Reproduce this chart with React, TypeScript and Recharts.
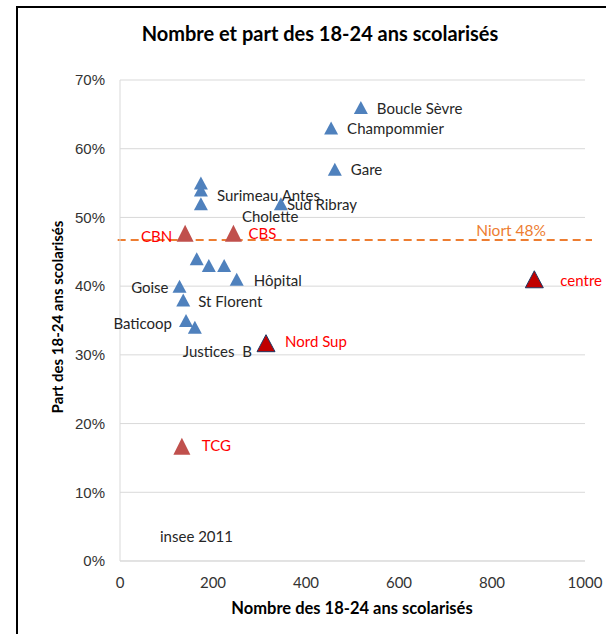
import React from 'react';
import { ScatterChart, Scatter, XAxis, YAxis, CartesianGrid, ReferenceLine } from 'recharts';

// ---- data ----
const blueNames = ['Boucle Sèvre', 'Champommier', 'Gare', '', 'Surimeau Antes', 'Cholette', 'Sud Ribray', '', '', '', 'Hôpital', 'Goise', 'St Florent', 'Baticoop', 'Justices  B'];
const blueX = [518, 454, 462, 174, 174, 174, 346, 165, 191, 224, 251, 128, 136, 142, 161];
const blueY = [0.66, 0.63, 0.57, 0.55, 0.54, 0.52, 0.52, 0.44, 0.43, 0.43, 0.41, 0.40, 0.38, 0.35, 0.34];

const redNames = ['CBN', 'CBS', 'TCG'];
const redX = [140, 244, 133];
const redY = [0.477, 0.477, 0.167];

const darkNames = ['Nord Sup', 'centre'];
const darkX = [314, 891];
const darkY = [0.317, 0.41];

const niortValue = 0.467;
const niortLabel = 'Niort 48%';
const xTicks = [0, 200, 400, 600, 800, 1000];
const yTicks = [0, 0.1, 0.2, 0.3, 0.4, 0.5, 0.6, 0.7];

const build = (names: string[], xs: number[], ys: number[]) =>
  names.map((n, i) => ({ name: n, x: xs[i], y: ys[i] }));

const blueData = build(blueNames, blueX, blueY);
const redData = build(redNames, redX, redY);
const darkData = build(darkNames, darkX, darkY);

// ---- label placement (styling, kept apart from data) ----
const labelOffsets: Record<string, { dx: number; dy: number; anchor?: string }> = {
  'Boucle Sèvre': { dx: 16, dy: 1 },
  'Champommier': { dx: 16, dy: 0 },
  'Gare': { dx: 16, dy: 0 },
  'Surimeau Antes': { dx: 16, dy: 5 },
  'Cholette': { dx: 41, dy: 12 },
  'Sud Ribray': { dx: 6, dy: 0 },
  'Hôpital': { dx: 17, dy: 1 },
  'Goise': { dx: -11, dy: 1, anchor: 'end' },
  'St Florent': { dx: 15, dy: 1 },
  'Baticoop': { dx: -14, dy: 2, anchor: 'end' },
  'Justices  B': { dx: -12, dy: 24 },
  'CBN': { dx: -13, dy: 3, anchor: 'end' },
  'CBS': { dx: 15, dy: 0 },
  'TCG': { dx: 20, dy: -1 },
  'Nord Sup': { dx: 19, dy: -2 },
  'centre': { dx: 26, dy: 1 },
};

const LABEL_FONT = 'Lato, "Open Sans", sans-serif';

const makeShape = (fill: string, w: number, h: number, labelColor: string, stroke?: string) =>
  (props: any) => {
    const { cx, cy, payload } = props;
    if (cx == null || cy == null) return <g />;
    const pts = `${cx - w / 2},${cy + h / 2} ${cx + w / 2},${cy + h / 2} ${cx},${cy - h / 2}`;
    const name: string = payload?.name ?? '';
    const off = labelOffsets[name];
    return (
      <g>
        <polygon points={pts} fill={fill} stroke={stroke ?? 'none'} strokeWidth={stroke ? 1 : 0} />
        {name && off ? (
          <text
            x={cx + off.dx}
            y={cy + off.dy}
            textAnchor={off.anchor ?? 'start'}
            dominantBaseline="central"
            fontFamily={LABEL_FONT}
            fontSize={15}
            fill={labelColor}
            style={{ whiteSpace: 'pre' }}
          >
            {name}
          </text>
        ) : null}
      </g>
    );
  };

const NiortLabel = (props: any) => {
  const vb = props.viewBox || {};
  const x2 = (vb.x ?? 0) + (vb.width ?? 0);
  return (
    <text x={x2 - 46} y={(vb.y ?? 0) - 10} textAnchor="end" dominantBaseline="central"
      fontFamily={LABEL_FONT} fontSize={15.5} fill="#ED7D31">
      {niortLabel}
    </text>
  );
};

export default function App() {
  return (
    <div style={{ position: 'absolute', left: 0, top: 0, width: 606, height: 634, background: '#fff', overflow: 'hidden' }}>
      <div style={{ position: 'absolute', left: 16, top: 6, width: 700, height: 700, borderLeft: '2px solid #000', borderTop: '2px solid #000' }} />
      <ScatterChart width={606} height={634} margin={{ top: 80, right: 21, left: 60, bottom: 43 }} style={{ position: 'absolute', left: 0, top: 0 }}>
        <CartesianGrid vertical={false} stroke="#D9D9D9" />
        <XAxis
          type="number"
          dataKey="x"
          domain={[0, 1000]}
          ticks={xTicks}
          height={30}
          axisLine={{ stroke: '#D9D9D9' }}
          tickLine={false}
          tickMargin={10}
          tick={{ fontFamily: LABEL_FONT, fontSize: 15, fill: '#333' }}
          interval={0}
        />
        <YAxis
          type="number"
          dataKey="y"
          domain={[0, 0.7]}
          ticks={yTicks}
          width={60}
          axisLine={{ stroke: '#D9D9D9' }}
          tickLine={false}
          tickMargin={9}
          tick={{ fontFamily: '"Liberation Sans", Arial, sans-serif', fontSize: 15, fill: '#333' }}
          tickFormatter={(v: number) => `${Math.round(v * 100)}%`}
          interval={0}
        />
        <ReferenceLine
          segment={[{ x: -5, y: niortValue }, { x: 1015, y: niortValue }]}
          stroke="#ED7D31"
          strokeWidth={2}
          strokeDasharray="8 5"
          ifOverflow="visible"
          label={<NiortLabel />}
        />
        <Scatter data={blueData} isAnimationActive={false} shape={makeShape('#4F81BD', 14, 13, '#262626')} />
        <Scatter data={redData} isAnimationActive={false} shape={makeShape('#C0504D', 17, 17, '#FF0000')} />
        <Scatter data={darkData} isAnimationActive={false} shape={makeShape('#C00000', 18, 17, '#FF0000', '#1F3864')} />
      </ScatterChart>
      <svg width={606} height={634} style={{ position: 'absolute', left: 0, top: 0, pointerEvents: 'none' }}>
        <text x={320} y={33} textAnchor="middle" dominantBaseline="central" fontFamily={LABEL_FONT} fontWeight="bold" fontSize={20} fill="#000">
          Nombre et part des 18-24 ans scolarisés
        </text>
        <text x={352} y={608} textAnchor="middle" dominantBaseline="central" fontFamily={LABEL_FONT} fontWeight="bold" fontSize={16.5} fill="#000">
          Nombre des 18-24 ans scolarisés
        </text>
        <text x={57} y={317} textAnchor="middle" dominantBaseline="central" fontFamily={LABEL_FONT} fontWeight="bold" fontSize={15} fill="#000" transform="rotate(-90 57 317)">
          Part des 18-24 ans scolarisés
        </text>
        <text x={160} y={536} textAnchor="start" dominantBaseline="central" fontFamily={LABEL_FONT} fontSize={15} fill="#262626">
          insee 2011
        </text>
      </svg>
    </div>
  );
}
